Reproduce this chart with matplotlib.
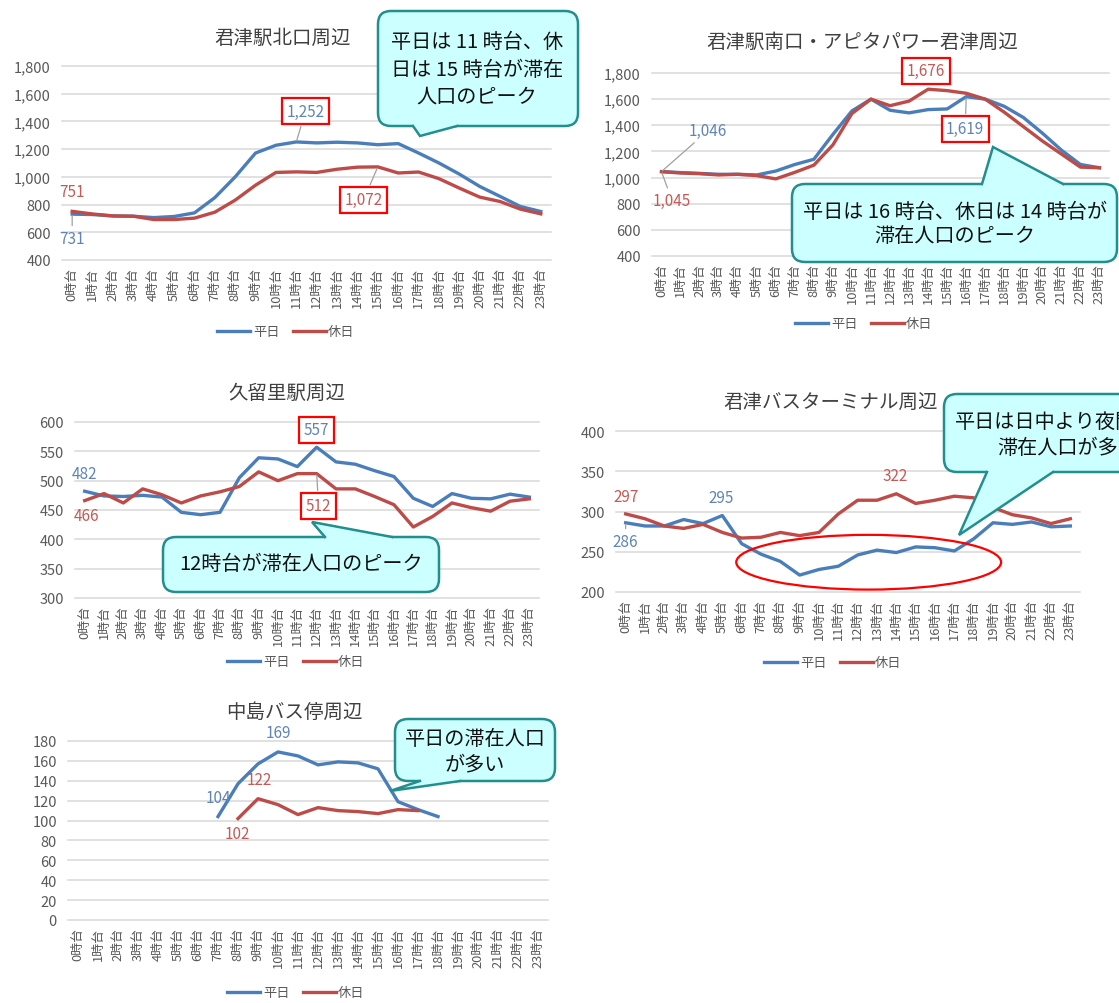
import numpy as np
import matplotlib
matplotlib.use("Agg")
import matplotlib.pyplot as plt
from matplotlib.patches import FancyBboxPatch, Polygon, Ellipse
from matplotlib.lines import Line2D
from matplotlib.transforms import Affine2D

plt.rcParams['font.family'] = ['Noto Sans CJK JP', 'DejaVu Sans']

W, H = 1119, 1004

# ------------------------------------------------------------------ datos
horas = [f"{h}時台" for h in range(24)]

kita_heijitsu = [731, 728, 718, 716, 706, 714, 740, 850, 1000, 1172, 1228, 1252,
                 1245, 1250, 1245, 1232, 1240, 1172, 1100, 1020, 931, 859, 786, 750]
kita_kyujitsu = [751, 732, 718, 716, 692, 692, 702, 745, 832, 940, 1032, 1036,
                 1032, 1055, 1070, 1072, 1028, 1035, 987, 919, 854, 822, 767, 733]

minami_heijitsu = [1046, 1038, 1032, 1025, 1025, 1020, 1050, 1100, 1140, 1330, 1510, 1600,
                   1515, 1495, 1520, 1525, 1619, 1600, 1545, 1460, 1340, 1210, 1100, 1075]
minami_kyujitsu = [1045, 1035, 1030, 1020, 1025, 1015, 990, 1040, 1095, 1250, 1490, 1600,
                   1550, 1585, 1676, 1665, 1645, 1600, 1500, 1390, 1280, 1180, 1080, 1075]

kururi_heijitsu = [482, 474, 473, 475, 472, 446, 442, 446, 505, 539, 537, 524,
                   557, 532, 528, 517, 507, 470, 456, 478, 470, 469, 477, 472]
kururi_kyujitsu = [466, 478, 462, 486, 476, 462, 474, 481, 490, 515, 500, 512,
                   512, 486, 486, 473, 459, 421, 439, 462, 454, 448, 465, 469]

bus_heijitsu = [286, 282, 282, 290, 285, 295, 260, 247, 238, 221, 228, 232,
                246, 252, 249, 256, 255, 251, 266, 286, 284, 287, 281, 282]
bus_kyujitsu = [297, 291, 282, 279, 284, 274, 267, 268, 274, 270, 274, 297,
                314, 314, 322, 310, 314, 319, 317, 305, 296, 292, 285, 291]

nakajima_heijitsu = [None] * 7 + [104, 137, 157, 169, 165, 156, 159, 158, 152, 119, 111, 104] + [None] * 5
nakajima_kyujitsu = [None] * 8 + [102, 122, 116, 106, 113, 110, 109, 107, 111, 110] + [None] * 6

AZUL = '#4A7EBB'
ROJO = '#BE4B48'
AZUL_TXT = '#5F84B8'
ROJO_TXT = '#C55A57'
CIAN = '#CCFFFF'
VERDE = '#238E8E'
GRIS = '#595959'

fig = plt.figure(figsize=(W / 100, H / 100), dpi=100)
fig.patch.set_facecolor('white')

# transformacion en pixeles (origen arriba a la izquierda)
pix = Affine2D().scale(1.0 / W, -1.0 / H).translate(0, 1) + fig.transFigure


def panel(caja, titulo, pos_titulo, heijitsu, kyujitsu, yticks, pos_leyenda):
    l, t, r, b = caja
    ax = fig.add_axes([l / W, 1 - b / H, (r - l) / W, (b - t) / H])
    x = np.arange(24)
    ax.plot(x, np.array(heijitsu, dtype=float), color=AZUL, lw=2.4, label="平日", zorder=3)
    ax.plot(x, np.array(kyujitsu, dtype=float), color=ROJO, lw=2.4, label="休日", zorder=3)
    ax.set_xlim(-0.5, 23.5)
    ax.set_ylim(yticks[0], yticks[-1])
    ax.set_yticks(yticks)
    ax.set_yticklabels([f"{v:,}" for v in yticks], fontsize=10.5, color=GRIS)
    ax.set_xticks(x)
    ax.set_xticklabels(horas, rotation=90, fontsize=9.3, color=GRIS)
    ax.grid(axis='y', color='#D9D9D9', lw=1.1)
    for gl in ax.get_ygridlines():
        gl.set_clip_on(False)
    ax.grid(axis='x', visible=False)
    ax.set_axisbelow(True)
    for s in ax.spines.values():
        s.set_visible(False)
    ax.tick_params(axis='y', length=0, pad=8)
    ax.tick_params(axis='x', length=0, pad=5)
    ax.set_facecolor('none')
    fig.text(pos_titulo[0], pos_titulo[1], titulo, transform=pix, ha='center', va='center',
             fontsize=14, color='#404040')
    fx, fy = pos_leyenda
    ax.legend(loc='center', bbox_to_anchor=(fx / W, 1 - fy / H), bbox_transform=fig.transFigure,
              ncol=2, frameon=False, fontsize=9.5, handlelength=2.5, columnspacing=1.0,
              handletextpad=0.2, labelcolor=GRIS)
    return ax


def etiqueta(ax, texto, punto, pos, color, caja=False, guia=False):
    kw = dict(ha='center', va='center', fontsize=11, color=color, annotation_clip=False, zorder=6)
    if caja:
        kw['bbox'] = dict(boxstyle='square,pad=0.3', fc='white', ec='#FF0000', lw=1.6)
    if guia:
        kw['arrowprops'] = dict(arrowstyle='-', color='#A0A0A0', lw=0.9, shrinkA=1, shrinkB=1)
    ax.annotate(texto, xy=punto, xytext=pos, **kw)


def globo(x0, y0, x1, y1, punta, base, lineas):
    caja = FancyBboxPatch((x0, y0), x1 - x0, y1 - y0, boxstyle='round,pad=0,rounding_size=13',
                          transform=pix, fc=CIAN, ec=VERDE, lw=1.8, zorder=10)
    fig.add_artist(caja)
    bx0, bx1, by = base
    ins = 4 if punta[1] < by else -4
    fig.add_artist(Polygon([(bx0, by + ins), (bx0, by), punta, (bx1, by), (bx1, by + ins)],
                           closed=True, transform=pix, fc=CIAN, ec='none', zorder=11))
    fig.add_artist(Line2D([bx0, punta[0], bx1], [by, punta[1], by], transform=pix,
                          color=VERDE, lw=1.8, zorder=12, solid_joinstyle='miter'))
    for texto, x, y, ha in lineas:
        fig.text(x, y, texto, transform=pix, ha=ha, va='center', fontsize=14.5,
                 color='#111111', zorder=13)


# ------------------------------------------------------------------ 君津駅北口周辺
ax1 = panel((62, 67, 551, 261), "君津駅北口周辺", (283, 38), kita_heijitsu, kita_kyujitsu,
            [400, 600, 800, 1000, 1200, 1400, 1600, 1800], (286, 333))
etiqueta(ax1, "751", (0, kita_kyujitsu[0]), (0, 895), ROJO_TXT)
etiqueta(ax1, "731", (0, kita_heijitsu[0]), (0, 557), AZUL_TXT, guia=True)
etiqueta(ax1, "1,252", (11, kita_heijitsu[11]), (11.45, 1474), AZUL_TXT, caja=True, guia=True)
etiqueta(ax1, "1,072", (15, kita_kyujitsu[15]), (14.3, 834), ROJO_TXT, caja=True, guia=True)

# ------------------------------------------------------------------ 君津駅南口
ax2 = panel((652, 74, 1109, 257), "君津駅南口・アピタパワー君津周辺", (862, 42),
            minami_heijitsu, minami_kyujitsu,
            [400, 600, 800, 1000, 1200, 1400, 1600, 1800], (864, 325))
etiqueta(ax2, "1,046", (0, minami_heijitsu[0]), (2.45, 1360), AZUL_TXT, guia=True)
etiqueta(ax2, "1,045", (0, minami_kyujitsu[0]), (0.55, 825), ROJO_TXT, guia=True)
etiqueta(ax2, "1,676", (14, minami_kyujitsu[14]), (13.9, 1818), ROJO_TXT, caja=True)
etiqueta(ax2, "1,619", (16, minami_heijitsu[16]), (15.95, 1372), AZUL_TXT, caja=True, guia=True)

# ------------------------------------------------------------------ 久留里駅周辺
ax3 = panel((75, 423, 539, 599), "久留里駅周辺", (287, 393), kururi_heijitsu, kururi_kyujitsu,
            [300, 350, 400, 450, 500, 550, 600], (296, 663))
etiqueta(ax3, "482", (0, kururi_heijitsu[0]), (0, 513), AZUL_TXT)
etiqueta(ax3, "466", (0, kururi_kyujitsu[0]), (0.1, 440), ROJO_TXT)
etiqueta(ax3, "557", (12, kururi_heijitsu[12]), (12.0, 587), AZUL_TXT, caja=True)
etiqueta(ax3, "512", (12, kururi_kyujitsu[12]), (12.1, 457), ROJO_TXT, caja=True, guia=True)

# ------------------------------------------------------------------ 君津バスターミナル周辺
ax4 = panel((616, 432, 1080, 593), "君津バスターミナル周辺", (831, 403), bus_heijitsu, bus_kyujitsu,
            [200, 250, 300, 350, 400], (833, 664))
etiqueta(ax4, "297", (0, bus_kyujitsu[0]), (0, 319), ROJO_TXT)
etiqueta(ax4, "286", (0, bus_heijitsu[0]), (0, 263), AZUL_TXT, guia=True)
etiqueta(ax4, "295", (5, bus_heijitsu[5]), (4.95, 318), AZUL_TXT)
etiqueta(ax4, "322", (14, bus_kyujitsu[14]), (13.95, 345), ROJO_TXT)
ax4.add_patch(Ellipse((12.57, 237), 13.7, 68, fill=False, ec='#FF0000', lw=1.6,
                      clip_on=False, zorder=7))

# ------------------------------------------------------------------ 中島バス停周辺
ax5 = panel((68, 742, 548, 921), "中島バス停周辺", (294, 712), nakajima_heijitsu, nakajima_kyujitsu,
            [0, 20, 40, 60, 80, 100, 120, 140, 160, 180], (296, 994))
etiqueta(ax5, "169", (10, 169), (10.0, 189), AZUL_TXT)
etiqueta(ax5, "104", (7, 104), (7.0, 123.5), AZUL_TXT)
etiqueta(ax5, "122", (9, 122), (9.05, 141), ROJO_TXT)
etiqueta(ax5, "102", (8, 102), (7.95, 86.5), ROJO_TXT)

# ------------------------------------------------------------------ globos
globo(378, 12, 578, 127, (420, 137), (413, 457, 127),
      [("平日は 11 時台、休", 477, 42, 'center'),
       ("日は 15 時台が滞在", 477, 70, 'center'),
       ("人口のピーク", 477, 97, 'center')])
globo(792, 185, 1117, 263, (993, 148), (982, 1063, 185),
      [("平日は 16 時台、休日は 14 時台が", 955, 212, 'center'),
       ("滞在人口のピーク", 955, 237, 'center')])
globo(163, 538, 439, 593, (312, 523), (325, 392, 538),
      [("12時台が滞在人口のピーク", 301, 565, 'center')])
# este globo queda cortado por el borde derecho, como en la imagen original
globo(944, 395, 1180, 473, (959, 536), (987, 1053, 473),
      [("平日は日中より夜間の方が", 955, 422, 'left'),
       ("滞在人口が多い", 997, 449, 'left')])
globo(395, 720, 555, 782, (390, 792), (420, 460, 782),
      [("平日の滞在人口", 475, 740, 'center'),
       ("が多い", 475, 765, 'center')])

plt.savefig("out.png", dpi=100, facecolor='white')
